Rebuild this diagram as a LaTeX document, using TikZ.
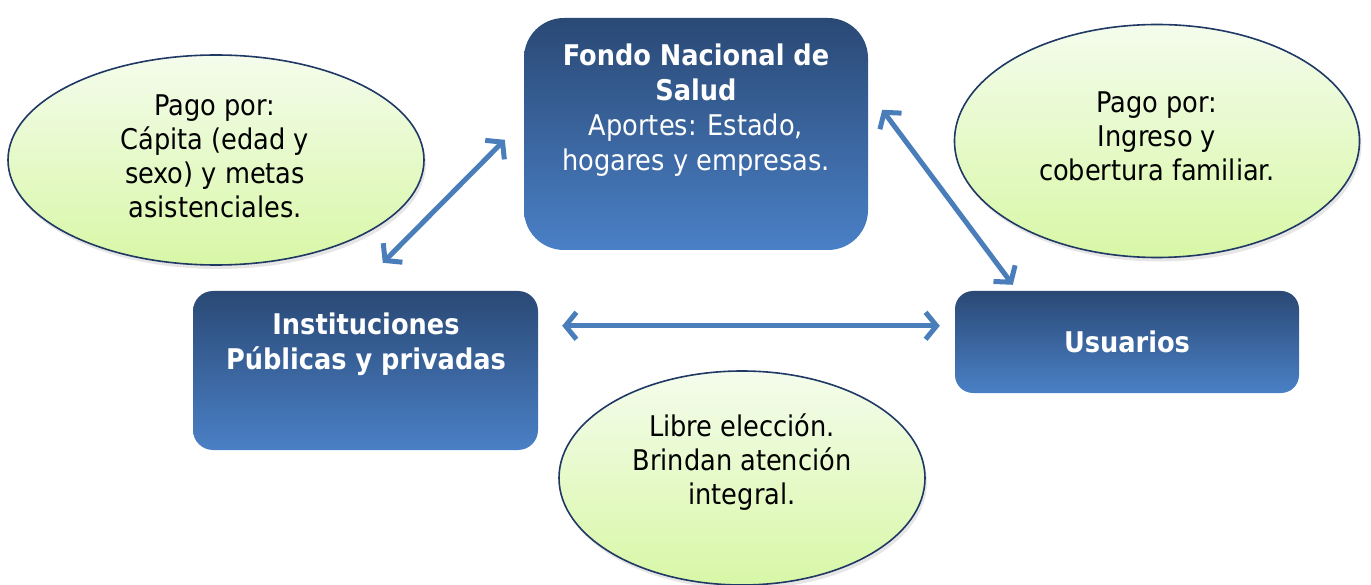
\documentclass[tikz,border=0pt]{standalone}
\usepackage{fontspec}
\setmainfont{DejaVu Sans Condensed}
\usetikzlibrary{shapes.geometric,arrows.meta,shadows,calc}
\definecolor{boxtop}{HTML}{2A4975}
\definecolor{boxbot}{HTML}{4A80C6}
\definecolor{elltop}{HTML}{F4FCEC}
\definecolor{ellbot}{HTML}{D8F7A6}
\definecolor{ellline}{HTML}{1F3864}
\definecolor{arrowc}{HTML}{4A7EBB}
\tikzset{
  box/.style={draw=none, top color=boxtop, bottom color=boxbot, inner sep=0pt},
  bubble/.style={ellipse, draw=ellline, line width=1.6pt, top color=elltop, bottom color=ellbot, inner sep=0pt,
    drop shadow={opacity=0.2, shadow xshift=2pt, shadow yshift=-4pt}},
  boxtext/.style={text=white, align=center, font=\fontsize{28.5}{35}\selectfont},
  bubtext/.style={text=black, align=center, font=\fontsize{28.5}{34}\selectfont},
  link/.style={draw=arrowc, line width=5pt, line cap=round, {Straight Barb[length=11pt,width=27pt,line width=5pt]}-{Straight Barb[length=11pt,width=27pt,line width=5pt]}}
}
\begin{document}
\begin{tikzpicture}[x=1pt,y=-1pt]
\useasboundingbox (0,0) rectangle (1371,585);
% bubbles
\node[bubble, minimum width=416pt, minimum height=210pt] (eL) at (216,160) {};
\node[bubble, minimum width=405pt, minimum height=233pt] (eR) at (1157,141) {};
\node[bubble, minimum width=366pt, minimum height=214pt] (eB) at (742,478) {};
\node[bubtext] (tL) at (215,156) {Pago por:\\Cápita (edad y\\sexo) y metas\\asistenciales.};
\node[bubtext] (tR) at (1157,136) {Pago por:\\Ingreso y\\cobertura familiar.};
\node[bubtext] (tB) at (742,462) {Libre elección.\\Brindan atención\\integral.};
% boxes
\node[box, rounded corners=40pt, minimum width=344pt, minimum height=232pt] (fondo) at (696,134) {};
\node[box, rounded corners=20pt, minimum width=345pt, minimum height=159pt] (inst) at (365.5,370.5) {};
\node[box, rounded corners=18pt, minimum width=344pt, minimum height=102pt] (usu) at (1127,342) {};
\node[boxtext] (tF) at (696,110) {\textbf{Fondo Nacional de}\\\textbf{Salud}\\Aportes: Estado,\\hogares y empresas.};
\node[boxtext] (tI) at (366,344.5) {\textbf{Instituciones}\\\textbf{Públicas y privadas}};
\node[boxtext] (tU) at (1127,342) {\textbf{Usuarios}};
% connectors
\coordinate (a1) at ($(inst.north west)+(190,-28)$);
\coordinate (a2) at ($(fondo.north west)+(-19,122)$);
\coordinate (b1) at ($(fondo.north east)+(14,92)$);
\coordinate (b2) at ($(usu.north west)+(58,-6)$);
\coordinate (c1) at ($(inst.north east)+(24,35)$);
\coordinate (c2) at ($(usu.north west)+(-15,35)$);
\draw[link] (a1) -- (a2);
\draw[link] (b1) -- (b2);
\draw[link] (c1) -- (c2);
\end{tikzpicture}
\end{document}
